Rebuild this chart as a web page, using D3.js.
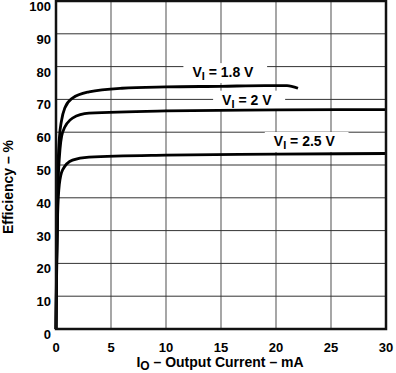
<!DOCTYPE html>
<html lang="en">
<head>
<meta charset="UTF-8">
<title>Efficiency vs Output Current</title>
<style>
  body { margin: 0; background: #fff; }
  svg text { font-family: "Liberation Sans", Arial, sans-serif; font-weight: bold; fill: #000; }
</style>
</head>
<body>
<script src="https://cdn.jsdelivr.net/npm/d3@7"></script>
<script>
// efficiency curves, [output current mA, efficiency %]
var vi18 = [[0,0],[0.05,20],[0.15,45],[0.3,58],[0.5,63.5],[0.8,67.4],[1.5,70.4],[3,72.3],[6,73.4],[10,73.8],[15,74],[19,74.2],[21,74.2],[22,73.4]];
var vi20 = [[0,0],[0.05,18],[0.15,40],[0.3,52],[0.6,60],[1.5,64.3],[3,65.8],[10,66.5],[20,66.8],[30,66.9]];
var vi25 = [[0,0],[0.05,15],[0.15,35],[0.3,44],[0.6,48.5],[1.5,51.5],[3,52.4],[10,53],[20,53.3],[30,53.5]];
var xTicks = [0,5,10,15,20,25,30];
var yTicks = [0,10,20,30,40,50,60,70,80,90,100];
// curve labels: input voltage text and where it sits (mA, %)
var labels = [
  {v: "1.8 V", x: 12.4, y: 76.8},
  {v: "2 V",   x: 15.1, y: 68.4},
  {v: "2.5 V", x: 19.8, y: 55.8}
];

var W = 396, H = 373;
var margin = {l:56, r:10, t:1, b:44};
var x = d3.scaleLinear().domain([0,30]).range([margin.l, W - margin.r]);
var y = d3.scaleLinear().domain([0,100]).range([H - margin.b, margin.t]);

var svg = d3.select("body").append("svg").attr("width",W).attr("height",H);

// grid
svg.append("g").selectAll("line").data(xTicks.slice(1,-1)).join("line")
  .attr("x1",d=>x(d)).attr("x2",d=>x(d)).attr("y1",y(0)).attr("y2",y(100))
  .attr("stroke","#777").attr("stroke-width",1.3);
svg.append("g").selectAll("line").data(yTicks.slice(1,-1)).join("line")
  .attr("x1",x(0)).attr("x2",x(30)).attr("y1",d=>y(d)).attr("y2",d=>y(d))
  .attr("stroke","#333").attr("stroke-width",1);

// label boxes (break the grid) and labels
var lg = svg.append("g");
labels.forEach(function(l){
  var t = lg.append("text").attr("x",x(l.x)).attr("y",y(l.y)).attr("font-size",14);
  t.append("tspan").text("V");
  t.append("tspan").text("I").attr("font-size",11).attr("dy",3);
  t.append("tspan").text(" = " + l.v).attr("dy",-3);
  var b = t.node().getBBox();
  lg.insert("rect","text").attr("x",b.x-9).attr("y",b.y-1).attr("width",b.width+22).attr("height",b.height+2)
    .attr("fill","#fff");
});

// curves
var line = d3.line().x(d=>x(d[0])).y(d=>y(d[1])).curve(d3.curveMonotoneX);
[vi18, vi20, vi25].forEach(function(s){
  svg.append("path").datum(s).attr("d",line).attr("fill","none")
    .attr("stroke","#000").attr("stroke-width",2.8);
});

// frame
svg.append("rect").attr("x",x(0)).attr("y",y(100)).attr("width",x(30)-x(0)).attr("height",y(0)-y(100))
  .attr("fill","none").attr("stroke","#111").attr("stroke-width",2.5);

// tick labels
svg.append("g").selectAll("text").data(yTicks).join("text")
  .attr("x",x(0)-5).attr("y",d=>y(d)+10).attr("text-anchor","end").attr("font-size",13).text(d=>d);
svg.append("g").selectAll("text").data(xTicks).join("text")
  .attr("x",d=>x(d)).attr("y",y(0)+23).attr("text-anchor","middle").attr("font-size",13).text(d=>d);

// axis titles
var xt = svg.append("text").attr("x",220).attr("y",367).attr("text-anchor","middle").attr("font-size",14);
xt.append("tspan").text("I");
xt.append("tspan").text("O").attr("font-size",12).attr("dy",2.5);
xt.append("tspan").text(" \u2013 Output Current \u2013 mA").attr("dy",-2.5);

svg.append("text").attr("transform","translate(13,187) rotate(-90)").attr("text-anchor","middle")
  .attr("font-size",14).text("Efficiency \u2013 %");
</script>
</body>
</html>
